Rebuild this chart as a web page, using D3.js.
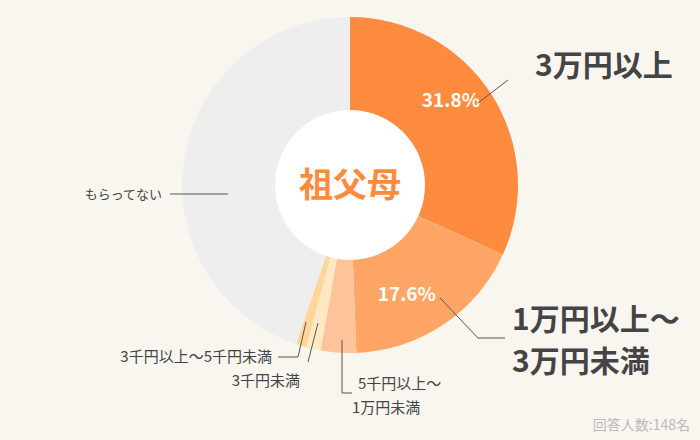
<!DOCTYPE html><html><head><meta charset="utf-8"><script src="https://cdn.jsdelivr.net/npm/d3@7"></script>
<style>body{margin:0;background:#f9f6f0;}svg{display:block}text{font-family:"Noto Sans CJK JP","Noto Sans",sans-serif;}</style></head><body>
<svg id="c" width="700" height="440"></svg>
<script>
const categories=["3万円以上","1万円以上〜3万円未満","5千円以上〜1万円未満","3千円未満","3千円以上〜5千円未満","もらってない"];
const values=[31.8,17.6,3.4,1.4,1.0,44.8];
const colors=["#ff8c3e","#ffa565","#ffc39b","#ffe8c2","#ffd599","#efeeee"];
const svg=d3.select("#c");
const cx=350,cy=185,R=168,r=75;
const pie=d3.pie().sort(null).value(d=>d)(values);
const arc=d3.arc().innerRadius(0).outerRadius(R);
const g=svg.append("g").attr("transform",`translate(${cx},${cy})`);
g.selectAll("path").data(pie).join("path").attr("d",arc).attr("fill",(d,i)=>colors[i]);
g.append("circle").attr("r",r).attr("fill","#fff");
g.append("text").attr("text-anchor","middle").attr("dy","0.35em").attr("font-size",34).attr("font-weight","bold").attr("fill","#ff8c3e").text("祖父母");
const ia=d3.arc().innerRadius(120).outerRadius(120);
[0,1].forEach(i=>{const p=ia.centroid(pie[i]);g.append("text").attr("x",p[0]+(i?-10:0)).attr("y",p[1]+(i?10:-20)).attr("text-anchor","middle").attr("dy","0.35em").attr("font-size",19).attr("font-weight","bold").attr("fill","#fff").text(values[i]+"%");});
const lc="#555";
function line(pts){svg.append("polyline").attr("points",pts.map(p=>p.join(",")).join(" ")).attr("fill","none").attr("stroke",lc).attr("stroke-width",1);}
function txt(x,y,s,fs,anchor,w){svg.append("text").attr("x",x).attr("y",y).attr("font-size",fs).attr("font-weight",w||"normal").attr("text-anchor",anchor||"start").attr("fill","#444").text(s);}
line([[478,103],[508,80]]);
txt(535,76,"3万円以上",30,"start","bold");
line([[440,298],[478,338],[505,338]]);
txt(512,330,"1万円以上〜",30,"start","bold");
txt(512,372,"3万円未満",30,"start","bold");
line([[342,340],[342,393],[352,393]]);
txt(358,389,"5千円以上〜",15);txt(352,413,"1万円未満",15);
line([[318,323],[308,362]]);
txt(300,386,"3千円未満",15,"end");
line([[306,322],[298,357],[278,357]]);
txt(272,362,"3千円以上〜5千円未満",15,"end");
line([[170,194],[228,194]]);
txt(162,199,"もらってない",13,"end");
svg.append("text").attr("x",690).attr("y",430).attr("text-anchor","end").attr("font-size",14).attr("fill","#bbb").text("回答人数:148名");
</script></body></html>
